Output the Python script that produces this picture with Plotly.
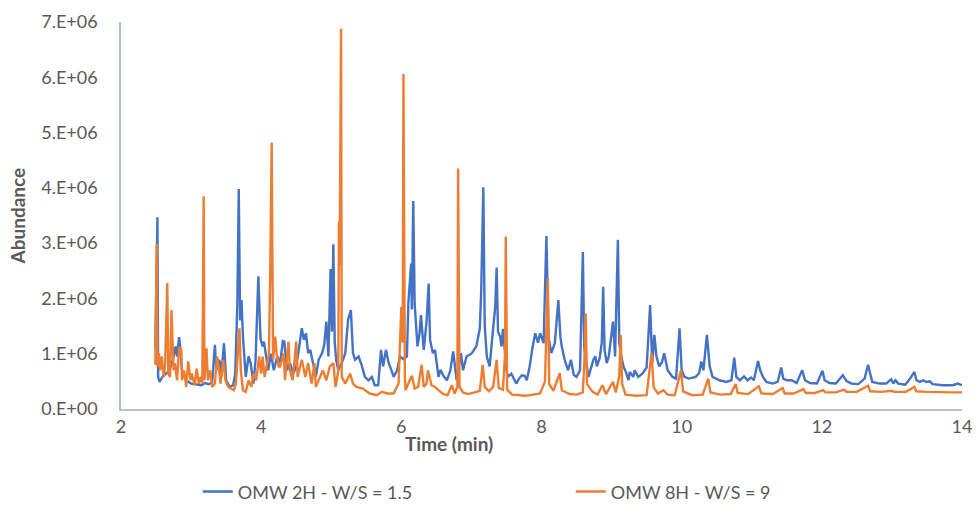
import plotly.graph_objects as go

# Chromatogram: OMW 2H - W/S = 1.5 (retention time in min, abundance in millions)
t_2h = [
    2.49, 2.52, 2.53, 2.55, 2.59, 2.64, 2.69, 2.74, 2.78, 2.80, 2.83, 2.85, 2.87, 2.91, 2.95,
    3.00, 3.05, 3.10, 3.15, 3.20, 3.25, 3.30, 3.34, 3.36, 3.38, 3.41, 3.43, 3.47, 3.50, 3.55,
    3.60, 3.63, 3.66, 3.68, 3.70, 3.72, 3.74, 3.78, 3.82, 3.85, 3.89, 3.92, 3.94, 3.96, 3.99,
    4.02, 4.04, 4.07, 4.10, 4.14, 4.18, 4.23, 4.27, 4.31, 4.33, 4.37, 4.41, 4.46, 4.50, 4.53,
    4.58, 4.61, 4.64, 4.67, 4.70, 4.75, 4.78, 4.82, 4.87, 4.90, 4.93, 4.96, 4.99, 5.01, 5.03,
    5.05, 5.07, 5.10, 5.15, 5.20, 5.24, 5.28, 5.31, 5.34, 5.39, 5.44, 5.48, 5.53, 5.58, 5.62,
    5.67, 5.71, 5.74, 5.78, 5.82, 5.86, 5.89, 5.94, 5.98, 6.03, 6.08, 6.10, 6.14, 6.15, 6.17,
    6.19, 6.23, 6.26, 6.28, 6.32, 6.34, 6.36, 6.39, 6.41, 6.45, 6.48, 6.53, 6.56, 6.60, 6.65,
    6.70, 6.74, 6.79, 6.85, 6.88, 6.93, 7.00, 7.07, 7.12, 7.14, 7.17, 7.19, 7.22, 7.26, 7.31,
    7.34, 7.36, 7.38, 7.41, 7.43, 7.45, 7.48, 7.50, 7.52, 7.57, 7.64, 7.68, 7.72, 7.76, 7.79,
    7.83, 7.87, 7.91, 7.95, 7.98, 8.03, 8.07, 8.10, 8.14, 8.19, 8.24, 8.27, 8.29, 8.33, 8.38,
    8.42, 8.46, 8.50, 8.55, 8.59, 8.61, 8.67, 8.71, 8.74, 8.77, 8.79, 8.83, 8.86, 8.88, 8.90,
    8.93, 8.96, 9.02, 9.05, 9.09, 9.11, 9.13, 9.17, 9.21, 9.24, 9.26, 9.31, 9.33, 9.38, 9.44,
    9.50, 9.55, 9.58, 9.61, 9.64, 9.68, 9.72, 9.75, 9.80, 9.87, 9.92, 9.97, 10.00, 10.04, 10.10,
    10.20, 10.25, 10.28, 10.31, 10.36, 10.38, 10.40, 10.44, 10.54, 10.64, 10.71, 10.75, 10.78, 10.83, 10.89,
    10.94, 10.99, 11.03, 11.09, 11.12, 11.16, 11.21, 11.30, 11.37, 11.42, 11.45, 11.50, 11.57, 11.64, 11.72,
    11.76, 11.83, 11.93, 12.01, 12.04, 12.11, 12.20, 12.30, 12.35, 12.42, 12.52, 12.61, 12.66, 12.69, 12.72,
    12.83, 12.92, 12.99, 13.02, 13.05, 13.09, 13.19, 13.26, 13.32, 13.35, 13.40, 13.45, 13.49, 13.54, 13.58,
    13.73, 13.87, 13.94, 14.00,
]
abund_2h = [
    1.10, 3.47, 0.58, 0.49, 0.58, 0.64, 0.70, 0.89, 1.13, 0.95, 1.30, 1.05, 0.70, 0.58, 0.50,
    0.46, 0.45, 0.44, 0.43, 0.47, 0.45, 0.48, 1.16, 0.70, 0.89, 0.86, 0.58, 1.19, 0.52, 0.40,
    0.43, 0.64, 1.90, 3.98, 1.60, 1.97, 1.31, 0.58, 0.95, 0.83, 0.46, 0.89, 1.60, 2.40, 1.28,
    1.13, 1.22, 0.95, 0.70, 1.00, 0.70, 0.95, 0.83, 1.23, 1.22, 0.70, 0.83, 0.64, 0.77, 1.01,
    1.46, 1.25, 1.37, 1.01, 1.07, 0.77, 0.58, 0.89, 1.01, 1.16, 1.58, 0.95, 2.53, 1.40, 2.98,
    1.20, 0.89, 0.70, 0.83, 1.01, 1.61, 1.79, 1.01, 0.89, 0.95, 0.77, 0.58, 0.52, 0.58, 0.43,
    0.43, 1.07, 0.77, 1.07, 0.83, 0.70, 0.58, 0.70, 0.95, 0.90, 0.95, 1.91, 2.63, 1.80, 3.76,
    1.91, 1.13, 1.37, 1.70, 1.07, 1.40, 1.58, 2.27, 1.25, 1.01, 1.07, 0.58, 0.71, 0.60, 0.52,
    0.70, 1.04, 0.52, 1.01, 0.70, 0.95, 1.00, 1.13, 1.46, 2.15, 4.01, 1.50, 0.95, 0.77, 1.46,
    1.85, 2.56, 1.40, 1.31, 1.13, 1.45, 0.90, 0.70, 0.58, 0.64, 0.46, 0.55, 0.61, 0.60, 0.52,
    0.76, 1.10, 1.37, 1.20, 1.37, 1.19, 3.13, 1.30, 1.01, 1.19, 1.97, 1.30, 1.13, 0.89, 0.70,
    0.89, 0.62, 0.58, 0.70, 2.84, 1.10, 0.58, 0.75, 0.89, 0.95, 0.77, 0.92, 1.20, 2.21, 1.07,
    0.83, 0.95, 1.58, 0.95, 3.06, 1.20, 1.01, 0.77, 0.65, 0.52, 0.67, 0.58, 0.70, 0.58, 0.64,
    0.75, 1.88, 0.83, 1.34, 0.95, 0.77, 0.85, 1.01, 0.70, 0.58, 0.55, 1.46, 0.70, 0.58, 0.55,
    0.58, 0.65, 0.86, 0.70, 1.34, 1.10, 0.77, 0.58, 0.52, 0.49, 0.52, 0.93, 0.58, 0.52, 0.59,
    0.52, 0.57, 0.52, 0.87, 0.70, 0.58, 0.49, 0.46, 0.49, 0.75, 0.55, 0.52, 0.52, 0.47, 0.70,
    0.52, 0.47, 0.46, 0.69, 0.52, 0.47, 0.46, 0.61, 0.51, 0.46, 0.45, 0.55, 0.80, 0.64, 0.49,
    0.46, 0.46, 0.54, 0.46, 0.52, 0.46, 0.44, 0.55, 0.67, 0.52, 0.49, 0.52, 0.49, 0.50, 0.45,
    0.43, 0.43, 0.46, 0.43,
]

# Chromatogram: OMW 8H - W/S = 9
t_8h = [
    2.49, 2.51, 2.52, 2.54, 2.56, 2.58, 2.61, 2.63, 2.66, 2.675, 2.70, 2.72, 2.75, 2.77, 2.80,
    2.83, 2.86, 2.87, 2.90, 2.93, 2.96, 2.99, 3.01, 3.05, 3.08, 3.11, 3.14, 3.16, 3.18, 3.19,
    3.22, 3.24, 3.27, 3.30, 3.34, 3.37, 3.40, 3.42, 3.46, 3.49, 3.53, 3.57, 3.61, 3.64, 3.69,
    3.71, 3.74, 3.78, 3.82, 3.86, 3.89, 3.93, 3.97, 4.00, 4.02, 4.05, 4.08, 4.11, 4.13, 4.15,
    4.17, 4.20, 4.22, 4.25, 4.27, 4.32, 4.34, 4.39, 4.41, 4.45, 4.50, 4.52, 4.58, 4.63, 4.67,
    4.72, 4.76, 4.78, 4.84, 4.88, 4.93, 4.98, 5.03, 5.06, 5.08, 5.10, 5.11, 5.12, 5.14, 5.15,
    5.20, 5.24, 5.27, 5.31, 5.36, 5.45, 5.55, 5.65, 5.72, 5.80, 5.89, 5.96, 6.00, 6.02, 6.03,
    6.05, 6.06, 6.10, 6.15, 6.19, 6.24, 6.29, 6.32, 6.36, 6.38, 6.43, 6.48, 6.53, 6.60, 6.66,
    6.72, 6.76, 6.80, 6.81, 6.83, 6.88, 6.95, 7.05, 7.12, 7.16, 7.19, 7.25, 7.31, 7.36, 7.39,
    7.45, 7.48, 7.49, 7.51, 7.58, 7.68, 7.78, 7.88, 7.98, 8.05, 8.07, 8.09, 8.11, 8.17, 8.26,
    8.29, 8.40, 8.50, 8.59, 8.61, 8.63, 8.65, 8.73, 8.80, 8.87, 8.92, 9.02, 9.06, 9.11, 9.13,
    9.15, 9.20, 9.35, 9.50, 9.57, 9.60, 9.66, 9.74, 9.80, 9.90, 9.99, 10.02, 10.15, 10.30, 10.38,
    10.41, 10.55, 10.70, 10.77, 10.80, 10.95, 11.10, 11.14, 11.30, 11.44, 11.47, 11.60, 11.74, 11.77, 11.90,
    12.02, 12.05, 12.20, 12.32, 12.35, 12.50, 12.66, 12.69, 12.85, 13.00, 13.03, 13.20, 13.32, 13.35, 13.50,
    13.70, 13.85, 14.00,
]
abund_8h = [
    0.80, 2.99, 0.77, 1.01, 0.70, 0.95, 0.58, 0.83, 2.28, 0.64, 0.58, 1.79, 0.70, 0.83, 0.52,
    1.12, 1.07, 0.52, 0.70, 0.40, 0.86, 0.52, 0.64, 0.43, 0.73, 0.46, 0.58, 0.46, 3.85, 0.52,
    1.10, 0.52, 0.70, 0.40, 0.46, 0.95, 0.70, 0.46, 0.89, 0.52, 0.40, 0.37, 0.34, 0.46, 1.46,
    0.70, 0.34, 0.31, 0.52, 0.40, 0.64, 0.52, 0.95, 0.64, 0.95, 0.58, 0.83, 1.00, 2.50, 4.82,
    0.89, 1.31, 1.01, 0.77, 0.77, 1.01, 0.52, 1.22, 0.70, 0.52, 1.22, 0.58, 0.89, 0.58, 0.83,
    0.46, 0.83, 0.40, 0.58, 0.70, 0.52, 0.77, 0.83, 0.40, 0.52, 0.70, 3.39, 2.60, 6.88, 0.58,
    0.46, 0.58, 0.64, 0.46, 0.40, 0.37, 0.28, 0.25, 0.31, 0.28, 0.28, 0.46, 1.85, 1.20, 6.06,
    0.60, 0.34, 0.46, 0.60, 0.37, 0.40, 0.80, 0.40, 0.46, 0.70, 0.43, 0.40, 0.34, 0.27, 0.25,
    0.43, 0.28, 0.40, 4.35, 0.40, 0.30, 0.27, 0.30, 0.33, 0.80, 0.40, 0.32, 0.40, 0.89, 0.38,
    0.35, 1.00, 3.12, 0.35, 0.26, 0.25, 0.24, 0.26, 0.28, 0.50, 1.50, 2.36, 0.45, 0.33, 0.65,
    0.34, 0.27, 0.26, 0.30, 0.80, 1.73, 0.45, 0.31, 0.26, 0.43, 0.27, 0.49, 0.30, 0.60, 1.34,
    0.45, 0.26, 0.24, 0.25, 1.01, 0.40, 0.28, 0.34, 0.26, 0.25, 0.70, 0.32, 0.25, 0.26, 0.55,
    0.30, 0.26, 0.27, 0.45, 0.29, 0.27, 0.41, 0.28, 0.27, 0.38, 0.28, 0.28, 0.36, 0.29, 0.29,
    0.34, 0.30, 0.30, 0.35, 0.31, 0.31, 0.42, 0.32, 0.31, 0.33, 0.31, 0.31, 0.40, 0.32, 0.31,
    0.30, 0.30, 0.30,
]

y_ticks = [0, 1e6, 2e6, 3e6, 4e6, 5e6, 6e6, 7e6]
y_tick_labels = ["0.E+00", "1.E+06", "2.E+06", "3.E+06", "4.E+06", "5.E+06", "6.E+06", "7.E+06"]
x_ticks = [2, 4, 6, 8, 10, 12, 14]

GRAY = "#595959"
FONT = "Lato"

fig = go.Figure()
fig.add_trace(go.Scatter(
    x=t_2h, y=[v * 1e6 for v in abund_2h], mode="lines",
    name="OMW 2H - W/S = 1.5", line=dict(color="#4472C4", width=2.4),
))
fig.add_trace(go.Scatter(
    x=t_8h, y=[v * 1e6 for v in abund_8h], mode="lines",
    name="OMW 8H - W/S = 9", line=dict(color="#ED7D31", width=2.4),
))

fig.update_layout(
    width=978, height=508,
    margin=dict(l=121, r=16, t=22, b=99, autoexpand=False),
    paper_bgcolor="white", plot_bgcolor="white",
    font=dict(family=FONT, size=18, color=GRAY),
    showlegend=True,
    legend=dict(
        orientation="h", x=0.0913, xanchor="left", y=-0.214, yanchor="middle",
        entrywidth=328, entrywidthmode="pixels",
        font=dict(family=FONT, size=18, color=GRAY),
        bgcolor="rgba(0,0,0,0)",
    ),
    xaxis=dict(
        range=[2, 14], tickvals=x_ticks, showgrid=False, zeroline=False,
        showline=True, linecolor="#BFBFBF", linewidth=2,
        ticks="", tickfont=dict(family=FONT, size=18, color=GRAY),
    ),
    yaxis=dict(
        range=[0, 7e6], tickvals=y_ticks, ticktext=y_tick_labels,
        showgrid=False, zeroline=False,
        showline=True, linecolor="#B4BDCF", linewidth=1.5,
        ticks="outside", ticklen=18, tickcolor="rgba(0,0,0,0)",
        tickfont=dict(family=FONT, size=18, color=GRAY),
    ),
    annotations=[
        dict(text="<b>Time (min)</b>", xref="paper", yref="paper",
             x=0.39, y=-0.0904, xanchor="center", yanchor="middle",
             showarrow=False, font=dict(family=FONT, size=19, color=GRAY)),
        dict(text="<b>Abundance</b>", xref="paper", yref="paper",
             x=-0.1225, y=0.5, xanchor="center", yanchor="middle", textangle=-90,
             showarrow=False, font=dict(family=FONT, size=19, color=GRAY)),
    ],
)

fig.write_html("out.html")
